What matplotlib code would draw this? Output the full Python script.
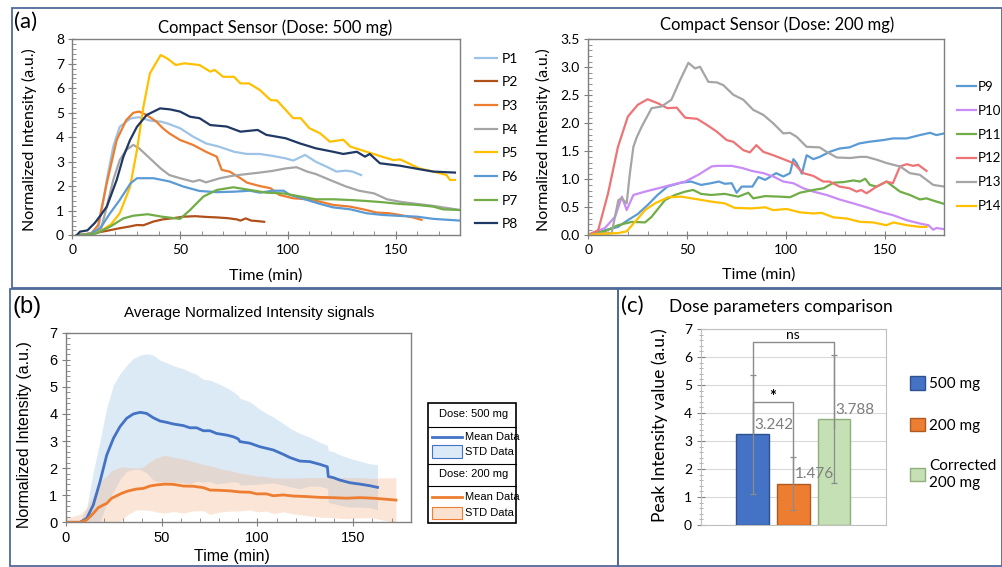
import numpy as np
import matplotlib
matplotlib.use("Agg")
import matplotlib.pyplot as plt
import matplotlib.patches as mpatches
from matplotlib.ticker import MultipleLocator, FormatStrFormatter

# ---------------- data: panel (a) left, dose 500 mg ----------------
p1_t = [2, 5, 9, 12, 16, 19, 22, 27, 31, 36, 41, 44, 50, 56, 62, 68, 75, 81, 87, 93, 99, 102.5, 108, 113, 118, 122.5, 127, 130, 134]
p1_y = [0, 0.02, 0.05, 0.22, 2.26, 3.62, 4.43, 4.77, 4.82, 4.68, 4.64, 4.57, 4.37, 4.03, 3.75, 3.62, 3.41, 3.32, 3.32, 3.24, 3.14, 3.05, 3.28, 3.0, 2.8, 2.6, 2.64, 2.6, 2.46]
p2_t = [2, 6, 11, 17, 22, 26, 30, 33, 37.6, 42, 47, 51.5, 57, 62, 67, 72, 76.3, 78, 80.5, 83, 86, 89]
p2_y = [0, 0.05, 0.1, 0.2, 0.29, 0.35, 0.42, 0.41, 0.56, 0.65, 0.7, 0.76, 0.78, 0.75, 0.73, 0.7, 0.65, 0.6, 0.69, 0.6, 0.58, 0.55]
p3_t = [2, 6, 9, 12, 16, 20.6, 25, 28.3, 31, 34.5, 39, 42, 45, 50, 56, 62, 67, 69.3, 73, 78, 81, 87, 92, 96, 102.5, 109, 115, 121, 129, 136.5, 141, 147, 152, 158, 162]
p3_y = [0, 0.03, 0.1, 0.42, 2.12, 3.89, 4.7, 5.0, 5.05, 4.91, 4.64, 4.37, 4.16, 3.89, 3.69, 3.41, 3.21, 2.67, 2.6, 2.33, 2.15, 2.01, 1.92, 1.65, 1.51, 1.47, 1.37, 1.24, 1.17, 1.03, 0.93, 0.9, 0.83, 0.73, 0.63]
p4_t = [2, 7, 10, 13, 16, 19, 22, 25, 28.3, 31, 36, 41, 45, 50, 53, 56, 59, 62, 68.5, 75, 81, 87, 93, 99, 104, 109, 113, 119.5, 127, 133, 140, 146, 152, 160, 167.5, 175, 180]
p4_y = [0, 0.02, 0.05, 0.15, 1.17, 2.26, 3.07, 3.48, 3.69, 3.55, 3.14, 2.73, 2.46, 2.33, 2.26, 2.19, 2.26, 2.16, 2.33, 2.44, 2.5, 2.56, 2.63, 2.73, 2.78, 2.6, 2.5, 2.26, 1.99, 1.82, 1.71, 1.47, 1.37, 1.28, 1.2, 1.1, 1.03]
p5_t = [2, 8, 14, 18, 22, 26.8, 30, 33, 36, 41, 44, 48, 52, 59, 64, 66, 70, 75, 78, 82, 87, 92, 95, 102.5, 106, 110, 115, 119.5, 125.7, 129, 136.5, 144, 149, 152, 161, 167.5, 173.6, 175.2, 177.5]
p5_y = [0, 0.05, 0.22, 0.45, 0.9, 1.98, 3.48, 5.25, 6.61, 7.36, 7.22, 6.95, 7.02, 6.95, 6.68, 6.75, 6.47, 6.47, 6.2, 6.2, 5.93, 5.52, 5.5, 4.78, 4.78, 4.37, 4.16, 3.82, 3.9, 3.62, 3.41, 3.2, 3.07, 3.1, 2.73, 2.6, 2.46, 2.26, 2.26]
p6_t = [2, 8, 13, 17.5, 22, 27, 30, 37.6, 45, 51.5, 59, 67, 75, 82.4, 87, 93, 98, 101, 109, 115, 121, 129, 136.5, 144, 152, 160, 167.5, 180]
p6_y = [0, 0.05, 0.29, 0.9, 1.44, 2.12, 2.33, 2.33, 2.2, 1.99, 1.81, 1.76, 1.78, 1.82, 1.74, 1.82, 1.82, 1.65, 1.44, 1.28, 1.14, 1.06, 0.9, 0.83, 0.79, 0.76, 0.67, 0.6]
p7_t = [2, 7, 11, 17.5, 23.7, 28.3, 35, 41.6, 50, 54.6, 60.8, 67, 74.7, 82.4, 90, 98, 106, 113, 121, 129, 136.5, 144, 152, 160, 167.5, 172, 180]
p7_y = [0, 0.03, 0.08, 0.35, 0.69, 0.8, 0.86, 0.76, 0.67, 1.03, 1.58, 1.85, 1.96, 1.85, 1.74, 1.71, 1.58, 1.47, 1.47, 1.44, 1.4, 1.35, 1.28, 1.24, 1.17, 1.06, 1.03]
p8_t = [2, 3.6, 7, 10.5, 13, 16, 20.6, 23.7, 26.8, 30, 34.5, 40.7, 45.3, 50, 54.6, 59, 64, 71.6, 78, 86, 90, 99, 105.6, 113, 121, 125.7, 132, 135.8, 138, 142.7, 152, 162.8, 167.5, 177.5]
p8_y = [0, 0.15, 0.2, 0.51, 0.8, 1.17, 2.26, 3.21, 3.89, 4.43, 4.91, 5.18, 5.14, 5.05, 4.84, 4.78, 4.5, 4.44, 4.23, 4.3, 4.1, 3.96, 3.75, 3.55, 3.41, 3.32, 3.41, 3.21, 3.32, 2.94, 2.84, 2.67, 2.6, 2.56]

# ---------------- data: panel (a) right, dose 200 mg ----------------
p9_t = [0, 4, 8.4, 15, 20, 25, 30, 35, 40, 47, 52, 57, 62, 66, 69, 72.5, 75, 77.6, 83, 86, 89.4, 95, 98.6, 102, 103.7, 105.3, 108, 110.4, 113.8, 117, 122, 127, 132, 137, 142, 149, 154, 161, 167.7, 172.8, 176, 180]
p9_y = [0, 0.04, 0.09, 0.15, 0.27, 0.38, 0.54, 0.72, 0.87, 0.94, 0.96, 0.9, 0.93, 0.96, 0.92, 0.93, 0.76, 0.87, 0.87, 1.04, 0.99, 1.11, 1.05, 1.11, 1.36, 1.29, 1.1, 1.43, 1.36, 1.4, 1.49, 1.55, 1.57, 1.64, 1.67, 1.7, 1.73, 1.73, 1.79, 1.83, 1.79, 1.82]
p10_t = [0, 2, 8.4, 13.5, 17, 19.4, 22.8, 28.7, 35.4, 42, 49, 55.6, 62.4, 65, 72.5, 78, 82.6, 88.5, 93.5, 98.6, 103.7, 108.7, 113.8, 120.5, 127, 134, 140.7, 147.5, 154, 161, 167.7, 172, 174.4, 176, 180]
p10_y = [0, 0.04, 0.13, 0.33, 0.69, 0.45, 0.72, 0.78, 0.84, 0.9, 0.96, 1.08, 1.23, 1.24, 1.24, 1.2, 1.15, 1.11, 1.05, 0.96, 0.93, 0.84, 0.78, 0.72, 0.64, 0.57, 0.5, 0.42, 0.36, 0.27, 0.21, 0.18, 0.1, 0.13, 0.11]
p11_t = [0, 2, 8.4, 15, 22, 28.7, 32, 35.4, 38.8, 43.8, 49, 53, 57, 62, 69, 75.8, 80.9, 83.4, 89.4, 97, 102, 107, 113.8, 119, 124, 129, 134, 137.4, 140, 142.4, 145.8, 150.8, 154.2, 157.6, 162.6, 167.7, 171, 174.4, 180]
p11_y = [0, 0.04, 0.07, 0.18, 0.24, 0.23, 0.33, 0.48, 0.63, 0.72, 0.78, 0.81, 0.74, 0.72, 0.74, 0.69, 0.76, 0.66, 0.7, 0.69, 0.68, 0.76, 0.81, 0.84, 0.94, 0.95, 0.98, 0.96, 1.01, 0.9, 0.87, 0.96, 0.87, 0.78, 0.72, 0.64, 0.66, 0.62, 0.56]
p12_t = [0, 5, 10, 15, 20, 25, 30, 35, 40, 44.7, 49, 55, 60, 65, 70, 73.3, 78.4, 81.7, 85, 88.5, 93.5, 98.6, 103.7, 108.7, 113.8, 118.8, 122, 127, 132, 135.7, 138, 140.7, 145.8, 150.8, 154, 157.6, 161, 164.3, 166.8, 171]
p12_y = [0, 0.09, 0.75, 1.58, 2.12, 2.33, 2.43, 2.36, 2.27, 2.28, 2.1, 2.08, 1.97, 1.85, 1.7, 1.67, 1.52, 1.48, 1.61, 1.49, 1.43, 1.36, 1.29, 1.11, 1.06, 0.96, 0.96, 0.87, 0.84, 0.78, 0.81, 0.75, 0.87, 0.96, 0.93, 1.23, 1.27, 1.24, 1.26, 1.15]
p13_t = [0, 5, 11.8, 15.2, 16.9, 19.4, 21, 22.8, 24.5, 27, 32, 37, 42, 46.4, 50.6, 54, 56.5, 60.7, 65, 68.3, 73.3, 78.4, 83.4, 88.5, 93.5, 98.6, 102, 105.3, 110.4, 117, 120.5, 125.6, 132.3, 137.4, 140.7, 145.8, 150.8, 157.6, 162.6, 167.6, 174.4, 180]
p13_y = [0, 0.03, 0.04, 0.63, 0.66, 0.57, 1.1, 1.58, 1.75, 1.94, 2.27, 2.3, 2.42, 2.77, 3.08, 2.98, 3.01, 2.74, 2.73, 2.68, 2.51, 2.42, 2.24, 2.15, 2.0, 1.82, 1.83, 1.76, 1.58, 1.57, 1.49, 1.39, 1.38, 1.4, 1.4, 1.35, 1.29, 1.23, 1.11, 1.08, 0.9, 0.87]
p14_t = [0, 4, 15, 19.4, 23.6, 28.7, 33.7, 40.4, 47, 54, 62.4, 69, 74, 82.6, 89.4, 93.5, 100.3, 107, 113.8, 118, 124, 130.6, 137.4, 144, 150.8, 154.2, 161, 167.7, 171]
p14_y = [0, 0.02, 0.04, 0.07, 0.24, 0.45, 0.57, 0.68, 0.69, 0.65, 0.6, 0.57, 0.49, 0.48, 0.5, 0.45, 0.47, 0.41, 0.39, 0.4, 0.32, 0.3, 0.24, 0.23, 0.18, 0.23, 0.18, 0.15, 0.15]

names_500 = ['P1', 'P2', 'P3', 'P4', 'P5', 'P6', 'P7', 'P8']
colors_500 = ['#9DC3E6', '#B0501A', '#ED7D31', '#A5A5A5', '#FFC000', '#5B9BD5', '#70AD47', '#203864']
names_200 = ['P9', 'P10', 'P11', 'P12', 'P13', 'P14']
colors_200 = ['#5B9BD5', '#C98BF5', '#70AD47', '#EE7376', '#A5A5A5', '#FFC000']

# ---------------- data: panel (b) ----------------
mean500_t = [0, 7.5, 11, 14.4, 17.9, 21.4, 24.9, 28.3, 31.8, 35.3, 38.8, 42.2, 45.7, 49.2, 52.7, 56.1, 61.4, 64.8, 68.3, 71.8, 75.3, 78.7, 84, 87.4, 90, 90.9, 96.1, 101.3, 104.8, 108.3, 113.5, 117, 122.2, 127.4, 132.6, 135.2, 136.5, 137, 139.6, 143, 148.3, 153.5, 158.7, 162.7]
mean500 = [0, 0, 0.15, 0.64, 1.5, 2.48, 3.1, 3.53, 3.84, 4.0, 4.06, 4.02, 3.86, 3.74, 3.69, 3.63, 3.57, 3.49, 3.49, 3.38, 3.38, 3.28, 3.22, 3.16, 3.08, 2.98, 2.92, 2.79, 2.73, 2.67, 2.51, 2.39, 2.26, 2.24, 2.14, 2.08, 2.05, 1.69, 1.65, 1.56, 1.46, 1.41, 1.35, 1.29]
std500 = [0, 0.05, 0.4, 1.23, 1.5, 1.75, 1.97, 1.95, 1.96, 2.05, 2.11, 2.2, 2.31, 2.25, 2.2, 2.15, 2.1, 2.07, 1.97, 1.9, 1.87, 1.87, 1.75, 1.66, 1.6, 1.6, 1.53, 1.38, 1.29, 1.22, 1.14, 1.08, 1.02, 0.9, 0.81, 0.8, 0.8, 0.96, 0.96, 0.93, 0.9, 0.85, 0.81, 0.84]
mean200_t = [0, 7.5, 11, 14.4, 17, 19.6, 21.4, 24, 26.6, 29.2, 32.7, 37, 40.5, 44, 47.5, 51.8, 56.1, 61.4, 66.6, 71.8, 75.3, 80.5, 85.7, 90.9, 96.1, 99.6, 104.8, 108.3, 113.5, 118.7, 125.7, 132.6, 139.6, 146.5, 153.5, 160.4, 165.7, 172.3]
mean200 = [0, 0, 0.09, 0.33, 0.54, 0.64, 0.7, 0.89, 0.98, 1.07, 1.16, 1.23, 1.25, 1.34, 1.38, 1.41, 1.4, 1.34, 1.33, 1.28, 1.19, 1.18, 1.16, 1.12, 1.11, 1.05, 1.05, 0.98, 1.01, 0.97, 0.95, 0.92, 0.91, 0.89, 0.91, 0.89, 0.86, 0.82]
std200 = [0.15, 0.3, 0.45, 0.67, 0.85, 0.98, 1.0, 1.02, 1.0, 0.98, 0.86, 0.77, 0.8, 0.9, 1.0, 1.07, 1.0, 1.0, 0.91, 0.85, 0.9, 0.8, 0.75, 0.7, 0.65, 0.66, 0.64, 0.66, 0.62, 0.66, 0.7, 0.73, 0.74, 0.76, 0.74, 0.73, 0.78, 0.83]

# ---------------- data: panel (c) ----------------
dose_labels = ['500 mg', '200 mg', 'Corrected\n200 mg']
peak_values = [3.242, 1.476, 3.788]
peak_err = [2.13, 0.94, 2.28]
bar_colors = ['#4472C4', '#ED7D31', '#C5E0B4']
bar_edges = ['#2F528F', '#AE5A21', '#8FAF7E']

W, H = 1003, 567
FONT = ['Lato', 'DejaVu Sans']
NARROW = ['Liberation Sans', 'DejaVu Sans']
plt.rcParams['font.family'] = FONT


def axes_px(fig, left, top, right, bottom):
    return fig.add_axes([left / W, 1 - bottom / H, (right - left) / W, (bottom - top) / H])


def ftext(fig, x, y, s, **kw):
    fig.text(x / W, 1 - y / H, s, **kw)


def style_axes(ax, spine='#7F7F7F'):
    for s in ax.spines.values():
        s.set_color(spine)
        s.set_linewidth(1.0)
    ax.tick_params(which='major', direction='inout', length=6, color=spine, labelsize=10, pad=3)
    ax.tick_params(which='minor', direction='in', length=3, color=spine)


fig = plt.figure(figsize=(W / 100, H / 100), dpi=100)

# panel frames
frame_col = '#4F6A9A'
for (x0, y0, x1, y1) in [(12, 8, 1002, 288), (10, 289, 618, 566), (618, 289, 1002, 566)]:
    fig.add_artist(mpatches.Rectangle((x0 / W, 1 - y1 / H), (x1 - x0) / W, (y1 - y0) / H,
                                      transform=fig.transFigure, fill=False,
                                      edgecolor=frame_col, linewidth=1.3))

# ---------------- (a) left ----------------
ax1 = axes_px(fig, 72.3, 39.3, 460.3, 235.3)
series_500 = [(p1_t, p1_y), (p2_t, p2_y), (p3_t, p3_y), (p4_t, p4_y),
              (p5_t, p5_y), (p6_t, p6_y), (p7_t, p7_y), (p8_t, p8_y)]
for (t, y), name, c in zip(series_500, names_500, colors_500):
    ax1.plot(t, y, color=c, lw=1.6, label=name)
ax1.set_xlim(0, 180)
ax1.set_ylim(0, 8)
ax1.xaxis.set_major_locator(MultipleLocator(50))
ax1.xaxis.set_minor_locator(MultipleLocator(10))
ax1.yaxis.set_major_locator(MultipleLocator(1))
ax1.yaxis.set_minor_locator(MultipleLocator(0.2))
style_axes(ax1)
ax1.legend(loc='center left', bbox_to_anchor=(475 / W, 1 - 141.5 / H), bbox_transform=fig.transFigure,
           frameon=False, fontsize=10, handlelength=1.6, handletextpad=0.3, labelspacing=0.84,
           borderaxespad=0, borderpad=0)
ftext(fig, 275, 28, 'Compact Sensor (Dose: 500 mg)', ha='center', va='center', fontsize=12)
ftext(fig, 29, 140, 'Normalized Intensity (a.u.)', ha='center', va='center', rotation=90, fontsize=11.5)
ftext(fig, 266, 276, 'Time (min)', ha='center', va='center', fontsize=11.5)
ftext(fig, 14, 22, '(a)', ha='left', va='center', fontsize=16)

# ---------------- (a) right ----------------
ax2 = axes_px(fig, 588.3, 39.3, 944.3, 235.3)
series_200 = [(p9_t, p9_y), (p10_t, p10_y), (p11_t, p11_y),
              (p12_t, p12_y), (p13_t, p13_y), (p14_t, p14_y)]
for (t, y), name, c in zip(series_200, names_200, colors_200):
    ax2.plot(t, y, color=c, lw=1.6, label=name)
ax2.set_xlim(0, 180)
ax2.set_ylim(0, 3.5)
ax2.xaxis.set_major_locator(MultipleLocator(50))
ax2.xaxis.set_minor_locator(MultipleLocator(10))
ax2.yaxis.set_major_locator(MultipleLocator(0.5))
ax2.yaxis.set_minor_locator(MultipleLocator(0.1))
ax2.yaxis.set_major_formatter(FormatStrFormatter('%.1f'))
style_axes(ax2)
ax2.legend(loc='center left', bbox_to_anchor=(957 / W, 1 - 146.5 / H), bbox_transform=fig.transFigure,
           frameon=False, fontsize=9.5, handlelength=1.45, handletextpad=0.15, labelspacing=0.9,
           borderaxespad=0, borderpad=0)
ftext(fig, 777, 25, 'Compact Sensor (Dose: 200 mg)', ha='center', va='center', fontsize=12)
ftext(fig, 543, 140, 'Normalized Intensity (a.u.)', ha='center', va='center', rotation=90, fontsize=11.5)
ftext(fig, 759, 275, 'Time (min)', ha='center', va='center', fontsize=11.5)

# ---------------- (b) ----------------
ax3 = axes_px(fig, 65.7, 332.7, 410.7, 522.3)
m5, s5 = np.array(mean500), np.array(std500)
m2, s2 = np.array(mean200), np.array(std200)
ax3.fill_between(mean500_t, m5 - s5, m5 + s5, color='#9DC3E6', alpha=0.35, lw=0)
ax3.fill_between(mean200_t, m2 - s2, m2 + s2, color='#F4B183', alpha=0.32, lw=0)
ax3.plot(mean500_t, mean500, color='#4472C4', lw=2)
ax3.plot(mean200_t, mean200, color='#ED7D31', lw=2)
ax3.set_xlim(0, 180)
ax3.set_ylim(0, 7)
ax3.xaxis.set_major_locator(MultipleLocator(50))
ax3.xaxis.set_minor_locator(MultipleLocator(10))
ax3.yaxis.set_major_locator(MultipleLocator(1))
ax3.yaxis.set_minor_locator(MultipleLocator(0.2))
style_axes(ax3, '#808080')
for lab in ax3.get_xticklabels() + ax3.get_yticklabels():
    lab.set_family(NARROW)
    lab.set_fontsize(10.5)
ftext(fig, 249, 313, 'Average Normalized Intensity signals', ha='center', va='center',
      fontsize=11, family=NARROW)
ftext(fig, 25, 435, 'Normalized Intensity (a.u.)', ha='center', va='center', rotation=90,
      fontsize=11.5, family=NARROW)
ftext(fig, 232, 557, 'Time (min)', ha='center', va='center', fontsize=11.5, family=NARROW)
ftext(fig, 12, 307, '(b)', ha='left', va='center', fontsize=17, family=NARROW)

# legend table for (b)
lg = axes_px(fig, 428, 402.7, 516, 523.3)
lg.set_xlim(0, 1)
lg.set_ylim(0, 1)
lg.axis('off')
lg.add_patch(mpatches.Rectangle((0, 0), 1, 1, fill=False, edgecolor='black', lw=1.2, clip_on=False))
for yy in [0.801, 0.492, 0.309]:
    lg.plot([0, 1], [yy, yy], color='black', lw=0.8, clip_on=False)
leg_rows = [('Dose: 500 mg', 0.91, 0.718, 0.594, '#4472C4', '#DCE9F6'),
            ('Dose: 200 mg', 0.406, 0.218, 0.085, '#ED7D31', '#FBE2D0')]
for head, yh, ym, ys, lc, fc in leg_rows:
    lg.text(0.515, yh, head, ha='center', va='center', fontsize=8, family=NARROW)
    lg.plot([0.042, 0.383], [ym, ym], color=lc, lw=2)
    lg.text(0.425, ym, 'Mean Data', ha='left', va='center', fontsize=8, family=NARROW)
    lg.add_patch(mpatches.Rectangle((0.042, ys - 0.052), 0.341, 0.104, facecolor=fc, edgecolor=lc, lw=0.8))
    lg.text(0.425, ys, 'STD Data', ha='left', va='center', fontsize=8, family=NARROW)

# ---------------- (c) ----------------
ax4 = axes_px(fig, 701, 329, 885.7, 525)
xpos = np.arange(len(peak_values)) - 1
ax4.bar(xpos, peak_values, width=0.8, color=bar_colors, edgecolor=bar_edges, lw=1,
        yerr=peak_err, error_kw=dict(ecolor='#8C8C8C', elinewidth=0.9, capsize=2.5, capthick=0.9),
        zorder=3)
ax4.set_xlim(-2.27, 2.27)
ax4.set_ylim(0, 7)
ax4.yaxis.set_major_locator(MultipleLocator(1))
ax4.yaxis.set_minor_locator(MultipleLocator(0.2))
ax4.set_xticks([])
ax4.grid(axis='y', color='#D9D9D9', lw=0.8, zorder=0)
for s in ax4.spines.values():
    s.set_color('#BFBFBF')
ax4.tick_params(axis='y', which='major', direction='inout', length=6, color='#808080', labelsize=10)
ax4.tick_params(axis='y', which='minor', direction='inout', length=3, color='#A0A0A0')
for xb, v in zip(xpos, peak_values):
    ax4.text(xb + 0.52, v + 0.33, f'{v:.3f}', ha='center', va='center', fontsize=11, color='#7F7F7F', zorder=5)
# significance brackets
br = dict(color='#8C8C8C', lw=1.0, zorder=4)
ax4.plot([xpos[0], xpos[0], xpos[2], xpos[2]], [3.3, 6.52, 6.52, 3.45], **br)
ax4.text((xpos[0] + xpos[2]) / 2, 6.78, 'ns', ha='center', va='center', fontsize=10)
ax4.plot([xpos[0], xpos[0], xpos[1], xpos[1]], [3.3, 4.4, 4.4, 1.5], **br)
ax4.text((xpos[0] + xpos[1]) / 2, 4.58, '*', ha='center', va='center', fontsize=12, fontweight='bold')
handles = [mpatches.Patch(facecolor=c, edgecolor=e, lw=1) for c, e in zip(bar_colors, bar_edges)]
ax4.legend(handles, dose_labels, loc='center left', bbox_to_anchor=(910 / W, 1 - 433 / H),
           bbox_transform=fig.transFigure, frameon=False, fontsize=11, handlelength=0.95,
           handleheight=0.95, handletextpad=0.3, labelspacing=1.75, borderaxespad=0, borderpad=0)
ftext(fig, 781, 307, 'Dose parameters comparison', ha='center', va='center', fontsize=12.5)
ftext(fig, 660, 425, 'Peak Intensity value (a.u.)', ha='center', va='center', rotation=90, fontsize=12.5)
ftext(fig, 621, 306, '(c)', ha='left', va='center', fontsize=16)

fig.savefig('out.png', dpi=100)
